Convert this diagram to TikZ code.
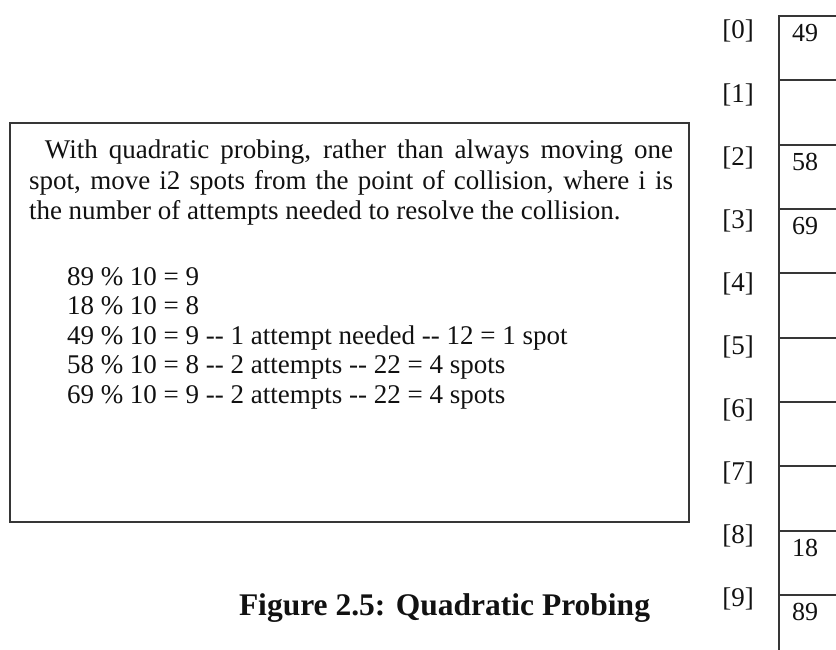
\documentclass[tikz,border=0pt]{standalone}
\usepackage{fontspec}
\setmainfont{Liberation Serif}
\usetikzlibrary{positioning}
\definecolor{ink}{HTML}{111111}
\definecolor{rule}{HTML}{363636}

\begin{document}
\begin{tikzpicture}[
    x=1pt, y=-1pt,
    every node/.style={inner sep=0pt, outer sep=0pt, text=ink},
    % note box on the left
    notebox/.style={rectangle, draw=rule, line width=2.2pt, anchor=north west,
                    minimum width=679pt, minimum height=399pt},
    % one slot of the hash table
    slot/.style={rectangle, draw=rule, line width=2pt, anchor=north west,
                 minimum width=120pt, minimum height=64.33pt},
    % lines of text
    txt/.style={anchor=base west, font=\fontsize{27}{31}\selectfont},
    % slot index
    idx/.style={anchor=base, font=\fontsize{27}{31}\selectfont},
    % value stored in a slot
    val/.style={anchor=base west, font=\fontsize{26}{31}\selectfont},
    % figure caption
    figcap/.style={anchor=base west, font=\fontsize{31.5}{36}\selectfont\bfseries}
]
\useasboundingbox (0,0) rectangle (836,650);

% ---------- Note box ----------
\node[notebox] (note) at (10,123) {};
\node[txt] (par1) at ([xshift=35pt, yshift=-36pt]note.north west)
    {\makebox[628pt][s]{With quadratic probing, rather than always moving one}};
\node[txt] (par2) at ([xshift=19pt, yshift=-66.5pt]note.north west)
    {\makebox[644pt][s]{spot, move i2 spots from the point of collision, where i is}};
\node[txt] (par3) at ([xshift=19pt, yshift=-96pt]note.north west)
    {the number of attempts needed to resolve the collision.};

% hash computations
\node[txt] (calc1) at ([xshift=57pt, yshift=-162pt]note.north west) {89 \% 10 = 9};
\node[txt] (calc2) at ([xshift=57pt, yshift=-191.5pt]note.north west) {18 \% 10 = 8};
\node[txt] (calc3) at ([xshift=57pt, yshift=-221pt]note.north west)
    {49 \% 10 = 9 -{}- 1 attempt needed -{}- 12 = 1 spot};
\node[txt] (calc4) at ([xshift=57pt, yshift=-250.5pt]note.north west)
    {58 \% 10 = 8 -{}- 2 attempts -{}- 22 = 4 spots};
\node[txt] (calc5) at ([xshift=57pt, yshift=-280pt]note.north west)
    {69 \% 10 = 9 -{}- 2 attempts -{}- 22 = 4 spots};

% ---------- Caption ----------
\node[figcap] (fig) at (239,615) {Figure 2.5: Quadratic Probing};

% ---------- Hash table ----------
\node[slot] (s0) at (779,16) {};
\node[slot, below=0pt of s0] (s1) {};
\node[slot, below=0pt of s1] (s2) {};
\node[slot, below=0pt of s2] (s3) {};
\node[slot, below=0pt of s3] (s4) {};
\node[slot, below=0pt of s4] (s5) {};
\node[slot, below=0pt of s5] (s6) {};
\node[slot, below=0pt of s6] (s7) {};
\node[slot, below=0pt of s7] (s8) {};
\node[slot, below=0pt of s8] (s9) {};

% slot indices
\node[idx] (i0) at (738,39) {[0]};
\node[idx] (i1) at ([yshift=-63.1pt]i0.base) {[1]};
\node[idx] (i2) at ([yshift=-63.1pt]i1.base) {[2]};
\node[idx] (i3) at ([yshift=-63.1pt]i2.base) {[3]};
\node[idx] (i4) at ([yshift=-63.1pt]i3.base) {[4]};
\node[idx] (i5) at ([yshift=-63.1pt]i4.base) {[5]};
\node[idx] (i6) at ([yshift=-63.1pt]i5.base) {[6]};
\node[idx] (i7) at ([yshift=-63.1pt]i6.base) {[7]};
\node[idx] (i8) at ([yshift=-63.1pt]i7.base) {[8]};
\node[idx] (i9) at ([yshift=-63.1pt]i8.base) {[9]};

% stored keys
\node[val] (v0) at ([xshift=13pt, yshift=-25.5pt]s0.north west) {49};
\node[val] (v2) at ([xshift=13pt, yshift=-25.5pt]s2.north west) {58};
\node[val] (v3) at ([xshift=13pt, yshift=-25.5pt]s3.north west) {69};
\node[val] (v8) at ([xshift=13pt, yshift=-25.5pt]s8.north west) {18};
\node[val] (v9) at ([xshift=13pt, yshift=-25.5pt]s9.north west) {89};

\end{tikzpicture}
\end{document}
